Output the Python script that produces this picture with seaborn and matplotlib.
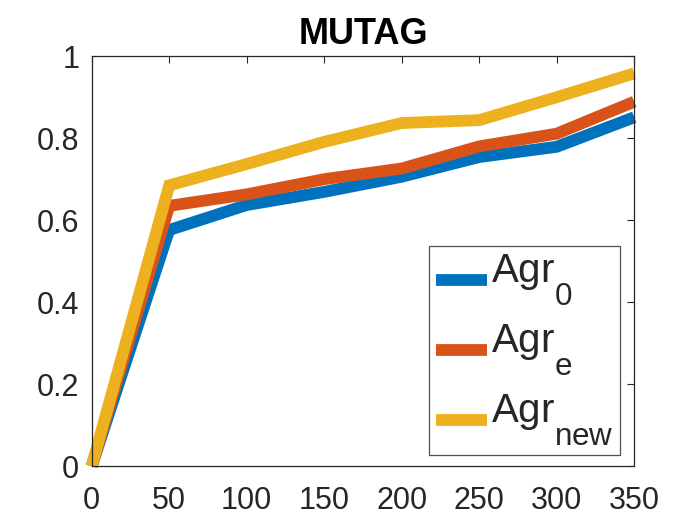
import matplotlib
matplotlib.use("Agg")
import matplotlib.pyplot as plt
import seaborn as sns
import pandas as pd
import numpy as np
from matplotlib.lines import Line2D
from matplotlib.legend_handler import HandlerLine2D

try:
    import matplotlib._mathtext as _mt
    _mt.FontConstantsBase.sub1 = 1.05
    _mt.FontConstantsBase.sub2 = 1.05
    _mt.SHRINK_FACTOR = 0.78
except Exception:
    pass

sizes = [0, 50, 100, 150, 200, 250, 300, 350]
agr0 = [0.0, 0.576, 0.637, 0.669, 0.706, 0.754, 0.779, 0.851]
agre = [0.0, 0.635, 0.663, 0.700, 0.726, 0.780, 0.811, 0.889]
agrnew = [0.0, 0.685, 0.737, 0.791, 0.837, 0.844, 0.900, 0.958]
labels = [r"$\mathregular{Agr_0}$", r"$\mathregular{Agr_e}$", r"$\mathregular{Agr_{new}}$"]
colors = ["#0072BD", "#D95319", "#EDB120"]
title = "MUTAG"
xticks = [0, 50, 100, 150, 200, 250, 300, 350]
yticks = [0, 0.2, 0.4, 0.6, 0.8, 1]
yticklabels = ["0", "0.2", "0.4", "0.6", "0.8", "1"]

sns.set_theme(style="white")
plt.rcParams["font.family"] = ["Liberation Sans", "DejaVu Sans"]
plt.rcParams["mathtext.fontset"] = "custom"
plt.rcParams["mathtext.rm"] = "Liberation Sans"

df = pd.DataFrame({
    "x": sizes * 3,
    "y": agr0 + agre + agrnew,
    "series": [labels[0]] * len(sizes) + [labels[1]] * len(sizes) + [labels[2]] * len(sizes),
})

fig = plt.figure(figsize=(7, 5.25), dpi=100)
ax = fig.add_axes([0.131, 0.112, 0.775, 0.781])
sns.lineplot(data=df, x="x", y="y", hue="series", palette=colors, linewidth=8.5,
             ax=ax, legend=False, clip_on=False, solid_capstyle="butt", solid_joinstyle="miter")

ax.set_xlim(0, 350)
ax.set_ylim(0, 1)
ax.set_xticks(xticks)
ax.set_xticklabels([str(t) for t in xticks])
ax.set_yticks(yticks)
ax.set_yticklabels(yticklabels)
ax.set_xlabel("")
ax.set_ylabel("")
ax.tick_params(axis="both", which="both", direction="in", length=5, width=0.8,
               top=True, right=True, labelsize=22, colors="#262626")
ax.tick_params(axis="x", pad=14)
ax.tick_params(axis="y", pad=9)
for s in ax.spines.values():
    s.set_color("#262626")
    s.set_linewidth(0.9)
ax.set_title(title, fontsize=26, fontweight="bold", color="black", pad=9)


class ShiftedLineHandler(HandlerLine2D):
    def create_artists(self, legend, orig_handle, xdescent, ydescent, width,
                       height, fontsize, trans):
        arts = super().create_artists(legend, orig_handle, xdescent, ydescent,
                                      width, height, fontsize, trans)
        for a in arts:
            a.set_ydata(np.asarray(a.get_ydata(), dtype=float) - 8.0)
        return arts


handles = [Line2D([], [], color=c, linewidth=8.5, solid_capstyle="butt") for c in colors]
leg = ax.legend(handles, labels, loc="lower right", bbox_to_anchor=(0.974, 0.028),
                fontsize=29, frameon=True, fancybox=False, handlelength=1.25,
                handletextpad=0.1, labelspacing=0.37, borderpad=0.17, borderaxespad=0,
                handler_map={Line2D: ShiftedLineHandler()})
leg.get_frame().set_edgecolor("#262626")
leg.get_frame().set_linewidth(0.9)

fig.savefig("out.png", dpi=100)
